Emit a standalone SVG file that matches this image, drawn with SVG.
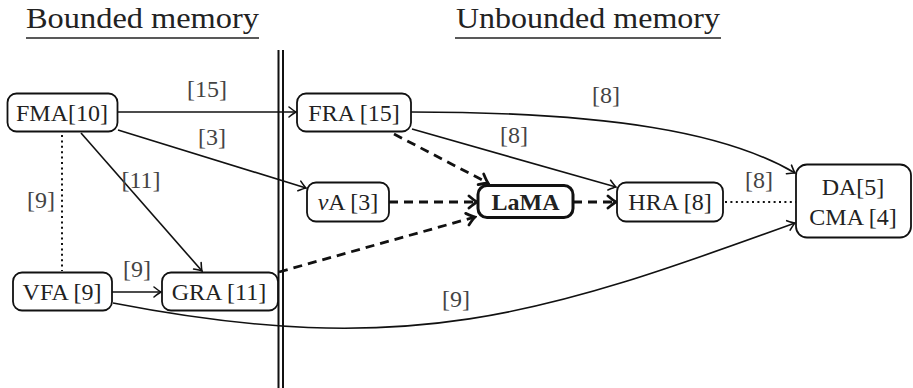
<svg xmlns="http://www.w3.org/2000/svg" width="913" height="388" viewBox="0 0 913 388" font-family="'Liberation Serif', 'DejaVu Serif', serif">
<style>
text{font-family:'Liberation Serif','DejaVu Serif',serif;fill:#222;}
.t{font-size:24px;text-anchor:middle;}
.lbl{font-size:24px;text-anchor:middle;fill:#444;}
.title{font-size:30px;}
.box{fill:#fff;stroke:#111;stroke-width:1.8;}
.bold{fill:#fff;stroke:#111;stroke-width:3;}
.e{fill:none;stroke:#111;stroke-width:1.6;}
.d{fill:none;stroke:#111;stroke-width:2.8;stroke-dasharray:9 6;}
.dot{fill:none;stroke:#111;stroke-width:2;stroke-dasharray:2 3.4;}
</style>
<defs>
<marker id="ar" markerUnits="userSpaceOnUse" viewBox="-10 -7 12 14" markerWidth="12" markerHeight="14" refX="0" refY="0" orient="auto">
<path d="M -7 -5 Q -2 -1 0 0 Q -2 1 -7 5" fill="none" stroke="#111" stroke-width="1.6" stroke-linecap="round" stroke-dasharray="none"/>
</marker>
<marker id="arT" markerUnits="userSpaceOnUse" viewBox="-11 -8 13 16" markerWidth="13" markerHeight="16" refX="0" refY="0" orient="auto">
<path d="M -8 -6 Q -2 -1 0 0 Q -2 1 -8 6" fill="none" stroke="#111" stroke-width="2.8" stroke-linecap="round" stroke-dasharray="none"/>
</marker>
</defs>

<g id="titles">
<text class="title" x="26" y="28" textLength="233" lengthAdjust="spacingAndGlyphs">Bounded memory</text>
<line x1="26" y1="38" x2="259" y2="38" stroke="#222" stroke-width="1.5"/>
<text class="title" x="456" y="28" textLength="264" lengthAdjust="spacingAndGlyphs">Unbounded memory</text>
<line x1="455" y1="38" x2="721" y2="38" stroke="#222" stroke-width="1.5"/>
</g>

<g id="separator">
<line x1="278.5" y1="50" x2="278.5" y2="388" stroke="#111" stroke-width="2"/>
<line x1="283" y1="50" x2="283" y2="388" stroke="#111" stroke-width="2"/>
</g>

<g id="connectors">
<line class="e" x1="118" y1="112" x2="296" y2="112" marker-end="url(#ar)"/>
<line class="e" x1="118" y1="130" x2="306" y2="188" marker-end="url(#ar)"/>
<line class="e" x1="81" y1="133" x2="202" y2="271" marker-end="url(#ar)"/>
<line class="dot" x1="62" y1="135" x2="62" y2="271"/>
<line class="e" x1="112" y1="292" x2="161" y2="292" marker-end="url(#ar)"/>
<path class="e" d="M 113 303 C 407 360 542 315 795 223" marker-end="url(#ar)"/>
<path class="e" d="M 411 112 C 611 112 727 133 795 173" marker-end="url(#ar)"/>
<line class="e" x1="412" y1="129" x2="616" y2="187" marker-end="url(#ar)"/>
<line class="d" x1="394" y1="134" x2="488" y2="183" marker-end="url(#arT)"/>
<line class="d" x1="389" y1="202" x2="477" y2="202" marker-end="url(#arT)"/>
<line class="d" x1="279" y1="272" x2="475" y2="217" marker-end="url(#arT)"/>
<line class="d" x1="573" y1="202" x2="616" y2="202" marker-end="url(#arT)"/>
<line class="dot" x1="725" y1="202" x2="796" y2="202"/>
<text class="lbl" x="207" y="97">[15]</text>
<text class="lbl" x="212" y="145">[3]</text>
<text class="lbl" x="141" y="188">[11]</text>
<text class="lbl" x="41" y="208">[9]</text>
<text class="lbl" x="137" y="277">[9]</text>
<text class="lbl" x="606" y="103">[8]</text>
<text class="lbl" x="514" y="143">[8]</text>
<text class="lbl" x="759" y="188">[8]</text>
<text class="lbl" x="456" y="307">[9]</text>
</g>

<g id="FMA">
<rect class="box" x="7.5" y="93.5" width="110" height="38" rx="9"/>
<text class="t" x="62" y="121">FMA[10]</text>
</g>
<g id="VFA">
<rect class="box" x="13" y="272.5" width="99" height="38" rx="9"/>
<text class="t" x="62" y="300">VFA [9]</text>
</g>
<g id="GRA">
<rect class="box" x="162" y="272.5" width="116" height="38" rx="9"/>
<text class="t" x="219" y="300">GRA [11]</text>
</g>
<g id="FRA">
<rect class="box" x="297" y="93.5" width="114" height="38" rx="9"/>
<text class="t" x="354" y="121">FRA [15]</text>
</g>
<g id="nuA">
<rect class="box" x="307" y="182.5" width="82" height="39" rx="9"/>
<text class="t" x="348" y="210"><tspan font-style="italic">ν</tspan>A [3]</text>
</g>
<g id="LaMA">
<rect class="bold" x="478" y="185.5" width="95" height="32" rx="9"/>
<text class="t" x="525.5" y="210" font-weight="bold">LaMA</text>
</g>
<g id="HRA">
<rect class="box" x="617" y="182.5" width="106" height="39" rx="9"/>
<text class="t" x="670" y="210">HRA [8]</text>
</g>
<g id="DA">
<rect class="box" x="796" y="164.5" width="115" height="73" rx="11"/>
<text class="t" x="853" y="195">DA[5]</text>
<text class="t" x="853" y="225">CMA [4]</text>
</g>
</svg>
